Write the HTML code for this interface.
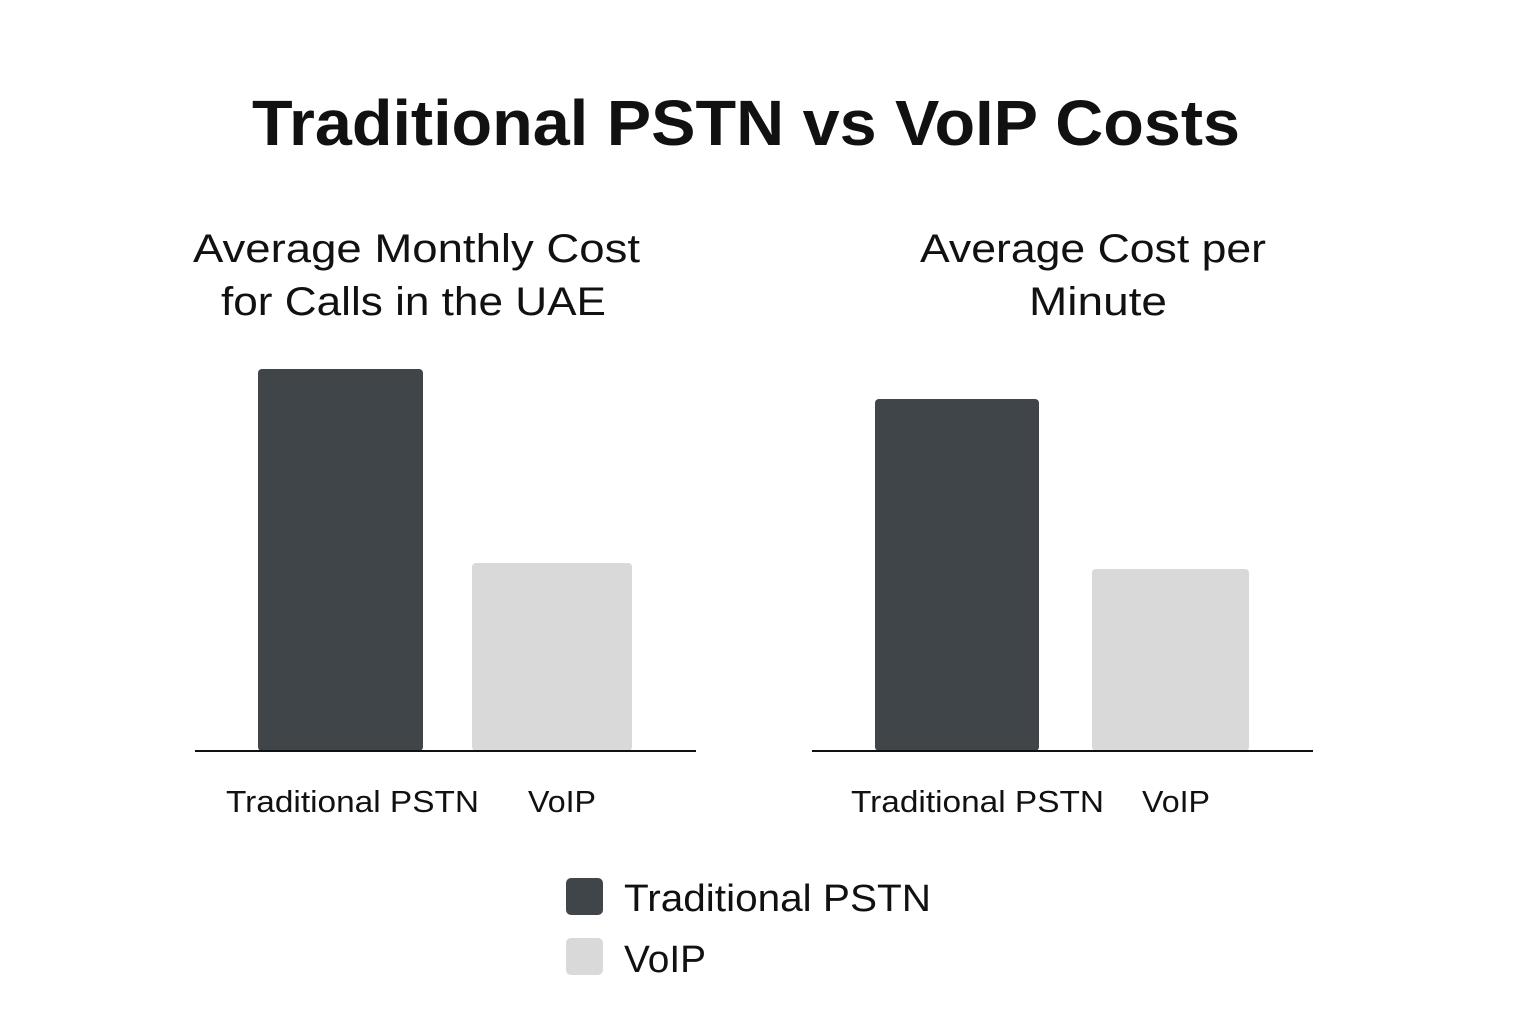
<!DOCTYPE html>
<html><head><meta charset="utf-8"><style>html,body{margin:0;padding:0;background:#fff}svg{display:block}</style></head>
<body>
<svg width="1536" height="1024" viewBox="0 0 1536 1024" xmlns="http://www.w3.org/2000/svg" font-family="Liberation Sans, sans-serif" fill="#111">
<rect width="1536" height="1024" fill="#fff"/>
<text x="252" y="145" font-size="64" font-weight="bold" textLength="988" lengthAdjust="spacingAndGlyphs">Traditional PSTN vs VoIP Costs</text>
<text x="193" y="262" font-size="40" textLength="447" lengthAdjust="spacingAndGlyphs">Average Monthly Cost</text>
<text x="221" y="315" font-size="40" textLength="385" lengthAdjust="spacingAndGlyphs">for Calls in the UAE</text>
<text x="920" y="262" font-size="40" textLength="346" lengthAdjust="spacingAndGlyphs">Average Cost per</text>
<text x="1029" y="315" font-size="40" textLength="138" lengthAdjust="spacingAndGlyphs">Minute</text>
<rect x="258" y="369" width="165" height="382" rx="4" fill="#40454a"/>
<rect x="472" y="563" width="160" height="188" rx="4" fill="#d9d9d9"/>
<rect x="875" y="399" width="164" height="352" rx="4" fill="#40454a"/>
<rect x="1092" y="569" width="157" height="182" rx="4" fill="#d9d9d9"/>
<line x1="195" y1="751" x2="696" y2="751" stroke="#111" stroke-width="2"/>
<line x1="812" y1="751" x2="1313" y2="751" stroke="#111" stroke-width="2"/>
<text x="226" y="812" font-size="31" textLength="253" lengthAdjust="spacingAndGlyphs">Traditional PSTN</text>
<text x="528" y="812" font-size="31" textLength="68" lengthAdjust="spacingAndGlyphs">VoIP</text>
<text x="851" y="812" font-size="31" textLength="253" lengthAdjust="spacingAndGlyphs">Traditional PSTN</text>
<text x="1142" y="812" font-size="31" textLength="68" lengthAdjust="spacingAndGlyphs">VoIP</text>
<rect x="566" y="878" width="37" height="37" rx="5" fill="#40454a"/>
<rect x="566" y="938" width="37" height="37" rx="5" fill="#d9d9d9"/>
<text x="624" y="911" font-size="38" textLength="307" lengthAdjust="spacingAndGlyphs">Traditional PSTN</text>
<text x="624" y="972" font-size="38" textLength="82" lengthAdjust="spacingAndGlyphs">VoIP</text>
</svg>
</body></html>
